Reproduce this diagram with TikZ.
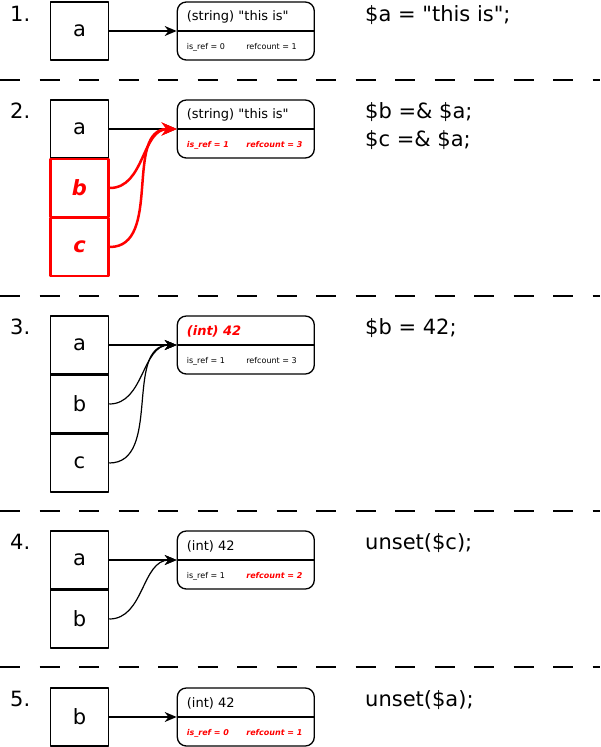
\documentclass[tikz,border=0pt]{standalone}
\usepackage{fontspec}
\setmainfont{DejaVu Sans}
\usetikzlibrary{arrows.meta}
\newcommand{\qt}{\XeTeXglyph\XeTeXcharglyph"22\relax}
\tikzset{
	var/.style={draw,line width=1.5pt,minimum size=58pt,inner sep=0pt,font=\fontsize{21}{25}\selectfont},
	refvar/.style={var,draw=red,text=red,line width=2.5pt,font=\fontsize{21}{25}\selectfont\bfseries\itshape},
	zval/.style={draw,rounded corners=9pt,line width=1.3pt,minimum width=137pt,minimum height=58pt,inner sep=0pt},
	ztype/.style={anchor=west,inner sep=0pt,font=\fontsize{13}{15}\selectfont},
	hottype/.style={ztype,text=red,font=\fontsize{13}{15}\selectfont\bfseries\itshape},
	zinfo/.style={anchor=west,inner sep=0pt,font=\fontsize{8}{10}\selectfont},
	hotinfo/.style={zinfo,text=red,font=\fontsize{8}{10}\selectfont\bfseries\itshape},
	ptr/.style={-{Stealth[length=12pt,width=10pt]},line width=1.2pt},
	refptr/.style={-{Stealth[length=15pt,width=13pt]},line width=2.5pt,red},
	code/.style={anchor=west,inner sep=0pt,font=\fontsize{21}{25}\selectfont},
	sep/.style={dash pattern=on 20pt off 19.5pt,line width=1.5pt}
}
\begin{document}
\begin{tikzpicture}[x=1pt,y=-1pt,line join=round]
	\useasboundingbox (0,0) rectangle (600,747);
	% step 1
	\node[code] (n1) at (10,14) {1.};
	\node[var] (a1) at (79.5,31) {a};
	\node[zval] (z1) at (245.8,31) {};
	\draw[line width=1.3pt] (z1.west) -- (z1.east);
	\node[ztype] (t1) at ([xshift=10pt,yshift=14pt]z1.west) {(string) \qt this is\qt};
	\node[zinfo] (r1) at ([xshift=10pt,yshift=-16pt]z1.west) {is\_ref = 0};
	\node[zinfo] (c1) at ([xshift=69.5pt,yshift=-16pt]z1.west) {refcount = 1};
	\draw[ptr] (a1) -- (z1);
	\node[code] (s1) at (365,15) {\$a = \qt this is\qt;};
	\draw[sep] (0,80) -- (600,80);
	% step 2
	\node[code] (n2) at (10,111) {2.};
	\node[var] (a2) at (79.5,129) {a};
	\node[refvar] (b2) at (79.5,188) {b};
	\node[refvar] (c2) at (79.5,247) {c};
	\node[zval] (z2) at (245.8,129) {};
	\draw[line width=1.3pt] (z2.west) -- (z2.east);
	\node[ztype] (t2) at ([xshift=10pt,yshift=14pt]z2.west) {(string) \qt this is\qt};
	\node[hotinfo] (r2) at ([xshift=10pt,yshift=-16pt]z2.west) {is\_ref = 1};
	\node[hotinfo] (c2i) at ([xshift=69.5pt,yshift=-16pt]z2.west) {refcount = 3};
	\draw[ptr] (a2) -- (z2);
	\draw[refptr] (b2.east) to[out=0,in=180] (z2.west);
	\draw[refptr] (c2.east) to[out=0,in=180] (z2.west);
	\node[code] (s2) at (365,112) {\$b =\& \$a;};
	\node[code] (s2b) at (365,140) {\$c =\& \$a;};
	\draw[sep] (0,296) -- (600,296);
	% step 3
	\node[code] (n3) at (10,327) {3.};
	\node[var] (a3) at (79.5,345) {a};
	\node[var] (b3) at (79.5,404) {b};
	\node[var] (c3) at (79.5,463) {c};
	\node[zval] (z3) at (245.8,345) {};
	\draw[line width=1.3pt] (z3.west) -- (z3.east);
	\node[hottype] (t3) at ([xshift=10pt,yshift=14pt]z3.west) {(int) 42};
	\node[zinfo] (r3) at ([xshift=10pt,yshift=-16pt]z3.west) {is\_ref = 1};
	\node[zinfo] (c3i) at ([xshift=69.5pt,yshift=-16pt]z3.west) {refcount = 3};
	\draw[ptr] (a3) -- (z3);
	\draw[ptr] (b3.east) to[out=0,in=180] (z3.west);
	\draw[ptr] (c3.east) to[out=0,in=180] (z3.west);
	\node[code] (s3) at (365,328) {\$b = 42;};
	\draw[sep] (0,511) -- (600,511);
	% step 4
	\node[code] (n4) at (10,542) {4.};
	\node[var] (a4) at (79.5,560) {a};
	\node[var] (b4) at (79.5,619) {b};
	\node[zval] (z4) at (245.8,560) {};
	\draw[line width=1.3pt] (z4.west) -- (z4.east);
	\node[ztype] (t4) at ([xshift=10pt,yshift=14pt]z4.west) {(int) 42};
	\node[zinfo] (r4) at ([xshift=10pt,yshift=-16pt]z4.west) {is\_ref = 1};
	\node[hotinfo] (c4i) at ([xshift=69.5pt,yshift=-16pt]z4.west) {refcount = 2};
	\draw[ptr] (a4) -- (z4);
	\draw[ptr] (b4.east) to[out=0,in=180] (z4.west);
	\node[code] (s4) at (365,543) {unset(\$c);};
	\draw[sep] (0,667) -- (600,667);
	% step 5
	\node[code] (n5) at (10,699) {5.};
	\node[var] (b5) at (79.5,717) {b};
	\node[zval] (z5) at (245.8,717) {};
	\draw[line width=1.3pt] (z5.west) -- (z5.east);
	\node[ztype] (t5) at ([xshift=10pt,yshift=14pt]z5.west) {(int) 42};
	\node[hotinfo] (r5) at ([xshift=10pt,yshift=-16pt]z5.west) {is\_ref = 0};
	\node[hotinfo] (c5i) at ([xshift=69.5pt,yshift=-16pt]z5.west) {refcount = 1};
	\draw[ptr] (b5) -- (z5);
	\node[code] (s5) at (365,700) {unset(\$a);};
\end{tikzpicture}
\end{document}
